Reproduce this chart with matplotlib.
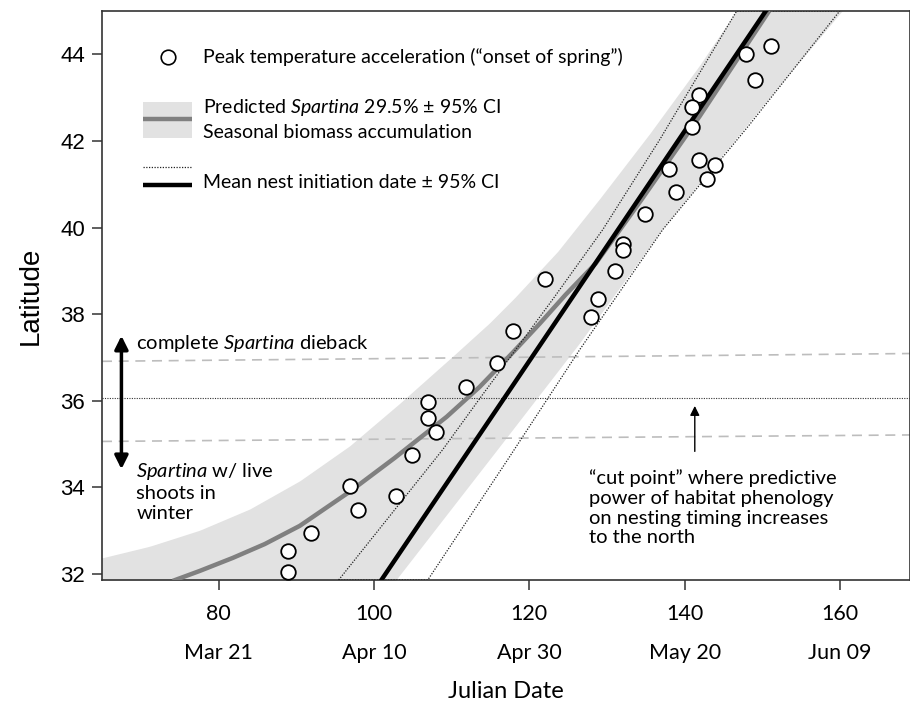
import numpy as np
import matplotlib.pyplot as plt
from matplotlib.lines import Line2D
from matplotlib.patches import Rectangle

plt.rcParams['font.family'] = ['Lato', 'DejaVu Sans']
plt.rcParams['mathtext.fontset'] = 'custom'
plt.rcParams['mathtext.rm'] = 'Lato'
plt.rcParams['mathtext.it'] = 'Lato:italic'

# puntos: aceleracion maxima de temperatura ("onset of spring")
onset_day = [151.1, 147.9, 149.0, 141.9, 140.9, 140.9, 141.9, 143.95, 142.9, 138.0,
             138.9, 134.9, 132.0, 132.0, 131.0, 128.9, 128.0, 122.0, 117.9, 115.9,
             111.9, 107.0, 107.0, 107.95, 104.9, 96.9, 102.9, 97.95, 91.95, 89.0, 89.0]
onset_lat = [44.2, 44.0, 43.4, 43.05, 42.79, 42.33, 41.56, 41.44, 41.11, 41.34,
             40.83, 40.32, 39.62, 39.47, 38.99, 38.35, 37.93, 38.81, 37.62, 36.86,
             36.31, 35.96, 35.61, 35.28, 34.75, 34.04, 33.81, 33.48, 32.95, 32.54, 32.04]

# curva Spartina predicha (29.5%) y su banda de confianza
spartina_day = [74.11, 77.59, 81.83, 85.95, 90.45, 96.89, 102.68, 109.37, 113.61,
                117.86, 121.34, 124.68, 128.55, 134.47, 141.93, 150.94]
spartina_lat = [31.84, 32.07, 32.37, 32.69, 33.11, 33.90, 34.68, 35.63, 36.32,
                37.11, 37.78, 38.45, 39.17, 40.65, 42.57, 45.02]
band_lo_day = [64.98, 71.15, 77.58, 84.02, 90.45, 96.89, 103.32, 110.53,
               114.90, 118.12, 123.66, 129.07, 135.50, 141.93, 146.69]
band_lo_lat = [32.37, 32.64, 33.01, 33.50, 34.15, 34.96, 35.94, 37.09,
               37.80, 38.38, 39.45, 40.67, 42.17, 43.75, 45.02]
band_hi_day = [102.82, 116.84, 126.49, 137.04, 149.65, 160.34]
band_hi_lat = [31.86, 35.10, 37.34, 39.95, 42.73, 45.02]

# fecha media de inicio de nidos +- IC 95%
nest_day = [100.96, 150.51]
nest_lat = [31.86, 45.02]
nest_lo_day = [95.46, 108.85, 113.74, 123.01, 129.45, 136.79, 146.69]
nest_lo_lat = [31.86, 34.87, 36.08, 38.34, 39.95, 42.03, 45.0]
nest_hi_day = [106.93, 117.22, 126.49, 137.17, 148.37, 159.95]
nest_hi_lat = [31.86, 34.64, 37.18, 39.95, 42.38, 45.0]

# punto de corte y sus limites
cut_lat = 36.07
cut_up = ([65, 169], [36.91, 37.09])
cut_low = ([65, 169], [35.06, 35.21])

ticks = [80, 100, 120, 140, 160]
dates = ['Mar 21', 'Apr 10', 'Apr 30', 'May 20', 'Jun 09']
lat_ticks = [32, 34, 36, 38, 40, 42, 44]

band_col = '#e2e2e2'
dot = (0, (1, 1.2))

fig = plt.figure(figsize=(9.10, 7.05), dpi=100)
ax = fig.add_axes([102 / 910, 1 - 580 / 705, 808 / 910, 569 / 705])

# banda
ys = np.linspace(31.0, 46.0, 600)
left = np.interp(ys, band_lo_lat, band_lo_day, left=60, right=band_lo_day[-1])
right = np.interp(ys, band_hi_lat, band_hi_day)
ax.fill_betweenx(ys, left, right, color=band_col, lw=0, zorder=1)

# lineas horizontales
ax.plot(*cut_up, color='#bdbdbd', lw=1.2, ls=(0, (6, 4)), zorder=2)
ax.plot(*cut_low, color='#bdbdbd', lw=1.2, ls=(0, (6, 4)), zorder=2)
ax.axhline(cut_lat, color='#333333', lw=0.8, ls=dot, zorder=2)

ax.plot(spartina_day, spartina_lat, color='#808080', lw=3.2, zorder=3,
        solid_capstyle='butt', solid_joinstyle='round')
ci_x = nest_lo_day + nest_hi_day[::-1] + nest_lo_day[:1]
ci_y = nest_lo_lat + nest_hi_lat[::-1] + nest_lo_lat[:1]
ax.plot(ci_x, ci_y, color='#222222', lw=0.9, ls=dot, zorder=3)
ax.plot(nest_day, nest_lat, color='black', lw=3.2, zorder=4)

ax.scatter(onset_day, onset_lat, s=110, facecolor='white', edgecolor='black',
           lw=1.3, zorder=5)

ax.set_xlim(65, 169)
ax.set_ylim(31.86, 45.0)

ax.set_yticks(lat_ticks)
ax.set_yticklabels([str(v) for v in lat_ticks], family='Liberation Sans', fontsize=16)
ax.set_xticks(ticks)
ax.set_xticklabels([f'{t}\n{d}' for t, d in zip(ticks, dates)], fontsize=15.5,
                   linespacing=2.2)
ax.tick_params(axis='both', length=7, width=1.1, color='#333333')
ax.tick_params(axis='x', pad=10)
ax.tick_params(axis='y', pad=5)
for s in ax.spines.values():
    s.set_linewidth(1.2)
    s.set_color('#333333')

ax.set_ylabel('Latitude', family='Liberation Sans', fontsize=20, labelpad=12)
ax.set_xlabel('Julian Date', fontsize=17, labelpad=13)

# leyenda manual
tr = ax.transAxes
ax.scatter([0.0817], [0.919], s=110, facecolor='white', edgecolor='black', lw=1.2,
           transform=tr, zorder=6, clip_on=False)
ax.text(0.125, 0.919, 'Peak temperature acceleration (\u201conset of spring\u201d)',
        transform=tr, fontsize=14, va='center')
ax.add_patch(Rectangle((0.0507, 0.777), 0.0607, 0.063, transform=tr,
                       facecolor=band_col, edgecolor='none', zorder=6))
ax.add_line(Line2D([0.0507, 0.1114], [0.810, 0.810], transform=tr, color='#808080',
                   lw=3.2, zorder=7, solid_capstyle='butt'))
ax.text(0.125, 0.831, 'Predicted $Spartina$ 29.5% \u00b1 95% CI', transform=tr,
        fontsize=14, va='center')
ax.text(0.125, 0.786, 'Seasonal biomass accumulation', transform=tr,
        fontsize=14, va='center')
ax.add_line(Line2D([0.0507, 0.1114], [0.726, 0.726], transform=tr, color='#222222',
                   lw=0.9, ls=dot, zorder=7))
ax.add_line(Line2D([0.0507, 0.1114], [0.694, 0.694], transform=tr, color='black',
                   lw=3.2, zorder=7, solid_capstyle='butt'))
ax.text(0.125, 0.698, 'Mean nest initiation date \u00b1 95% CI', transform=tr,
        fontsize=14, va='center')

# anotaciones
ax.annotate('', xy=(67.5, 37.5), xytext=(67.5, 34.42),
            arrowprops=dict(arrowstyle='<|-|>', color='black', lw=2.5,
                            mutation_scale=20, shrinkA=0, shrinkB=0))
ax.text(69.4, 37.33, 'complete $Spartina$ dieback', fontsize=14.5, va='center')
ax.text(69.4, 34.6, '$Spartina$ w/ live\nshoots in\nwinter', fontsize=14.5, va='top',
        linespacing=1.2)
ax.annotate('', xy=(141.3, 35.88), xytext=(141.3, 34.83),
            arrowprops=dict(arrowstyle='-|>', color='black', lw=1.0,
                            mutation_scale=14, shrinkA=0, shrinkB=0))
ax.text(127.7, 34.42, '\u201ccut point\u201d where predictive\npower of habitat phenology\n'
        'on nesting timing increases\nto the north', fontsize=14.5, va='top',
        linespacing=1.2)

fig.savefig('out.png', dpi=100)
